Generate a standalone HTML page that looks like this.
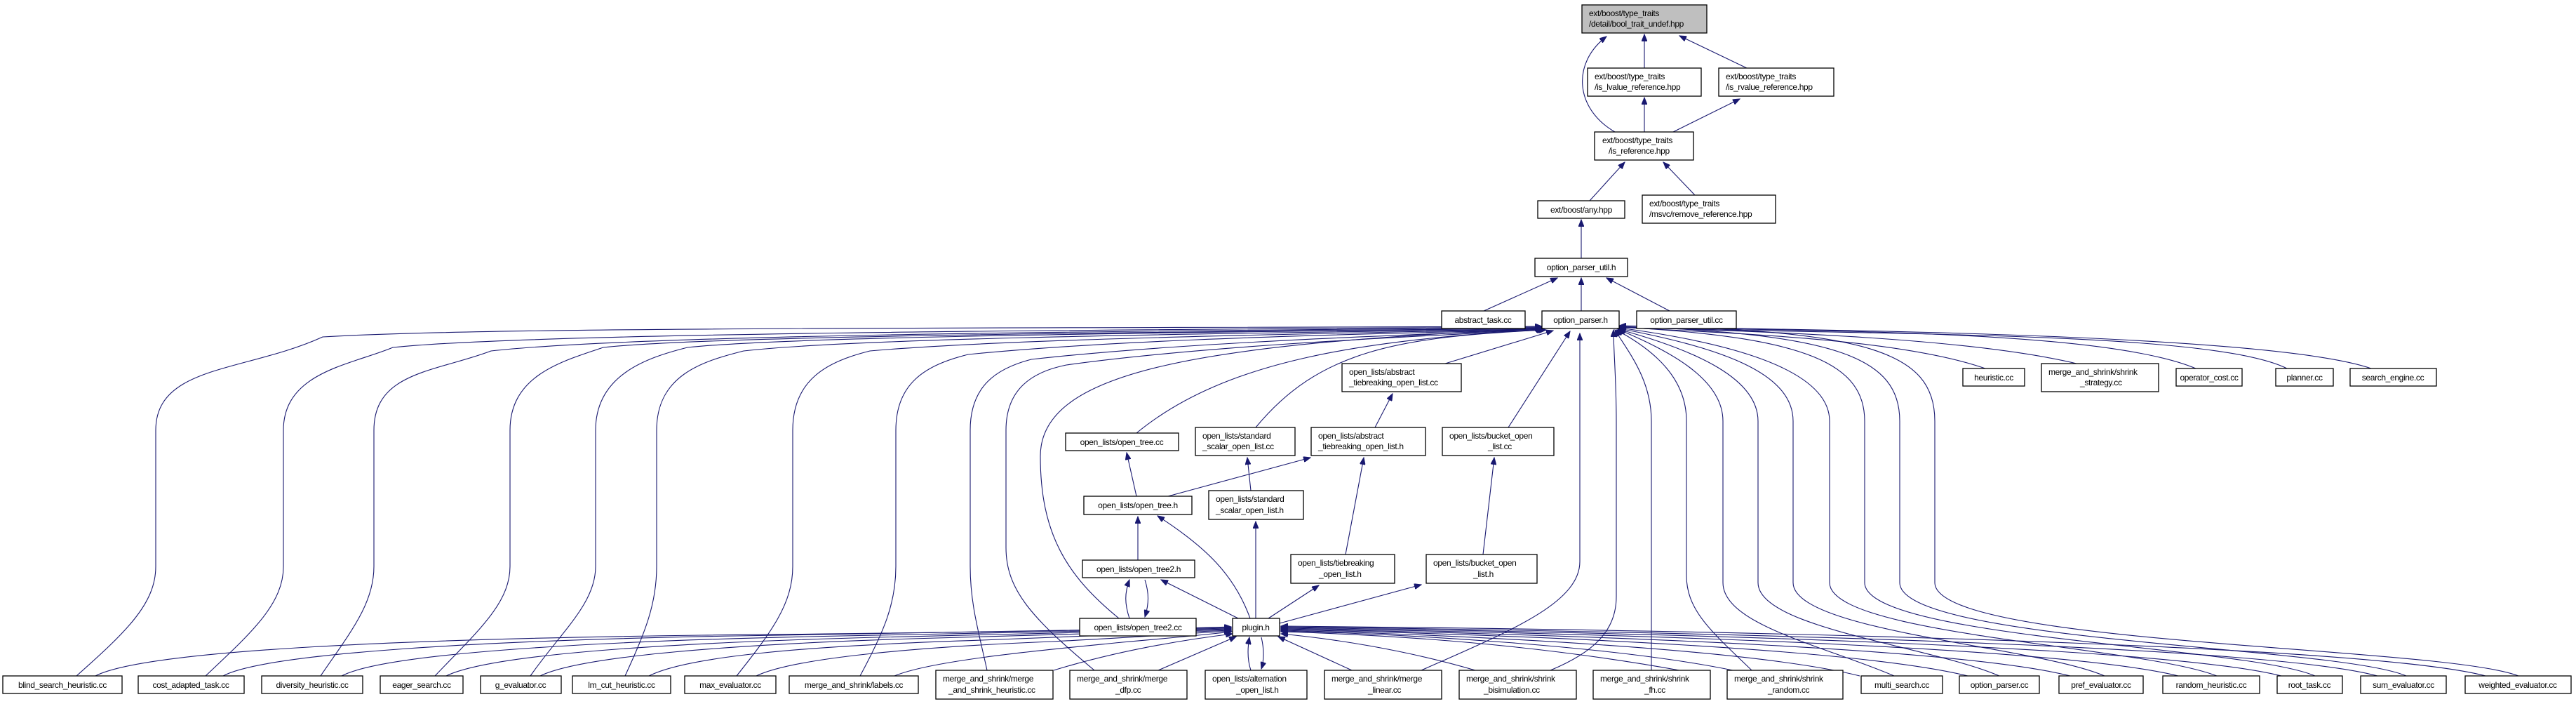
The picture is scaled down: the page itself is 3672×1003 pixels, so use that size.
<!DOCTYPE html>
<html><head><meta charset="utf-8"><style>
html,body{margin:0;padding:0;background:#fff;}
svg{display:block}
text{font-family:"Liberation Sans",Arial,sans-serif;font-size:12px;letter-spacing:-0.35px;fill:#000}
.e{fill:none;stroke:#191970;stroke-width:1.1}
.n{fill:#fff;stroke:#000;stroke-width:1.3}
</style></head><body>
<svg width="3672" height="1003" viewBox="0 0 3672 1003" xmlns="http://www.w3.org/2000/svg">
<defs><marker id="a" markerWidth="11" markerHeight="8" refX="10" refY="4" orient="auto" markerUnits="userSpaceOnUse"><path d="M0,0 L10,4 L0,8 z" fill="#191970" stroke="#191970"/></marker></defs>
<g class="e" marker-end="url(#a)">
<path d="M2344,97 L2344,49"/>
<path d="M2490,97 L2394,51"/>
<path d="M2302,188 C2245,155 2240,90 2290,52"/>
<path d="M2344,188 L2344,139"/>
<path d="M2385,188 L2480,141"/>
<path d="M2266,286 L2316,231"/>
<path d="M2416,278 L2371,231"/>
<path d="M2254,368 L2254,313"/>
<path d="M2115,443 L2220,396"/>
<path d="M2254,443 L2254,396"/>
<path d="M2380,443 L2290,396"/>
<path d="M2060,518 L2214,471"/>
<path d="M1620,617 C1750,510 1950,485 2200,469"/>
<path d="M1790,609 C1880,500 1990,480 2204,470"/>
<path d="M2150,609 L2238,472"/>
<path d="M1595,881 C1520,820 1483,760 1483,650 C1483,530 1700,490 2200,468"/>
<path d="M2026,955 C2150,900 2252,860 2252,800 L2252,475"/>
<path d="M109,963 C180,900 222,860 222,807 L222,613 C222,520 350,530 460,480 C700,465 1500,468 2198,465"/>
<path d="M293,963 C360,900 404,860 404,807 L404,613 C404,530 500,520 560,495 C750,475 1500,470 2198,466"/>
<path d="M457,963 C500,900 533,860 533,807 L533,613 C533,530 620,530 700,500 C900,478 1500,472 2198,467"/>
<path d="M620,963 C680,900 727,860 727,807 L727,613 C727,535 800,515 860,495 C1000,480 1500,474 2198,468"/>
<path d="M756,963 C800,900 849,860 849,807 L849,613 C849,535 920,510 980,495 C1100,482 1500,475 2198,468"/>
<path d="M891,963 C920,900 936,860 936,807 L936,613 C936,535 1000,515 1060,500 C1200,484 1600,476 2199,469"/>
<path d="M1050,963 C1100,900 1130,860 1130,807 L1130,613 C1130,540 1180,515 1240,500 C1400,486 1700,478 2200,469"/>
<path d="M1226,963 C1260,900 1277,860 1277,807 L1277,613 C1277,545 1320,520 1380,505 C1550,488 1800,478 2200,470"/>
<path d="M1407,955 C1395,900 1383,860 1383,807 L1383,613 C1383,550 1420,525 1470,512 C1650,492 1900,480 2201,470"/>
<path d="M1560,955 C1470,880 1434,840 1434,780 L1434,613 C1434,555 1470,530 1520,520 C1700,495 1950,482 2202,470"/>
<path d="M2210,955 C2270,930 2304,900 2304,850 L2304,600 C2304,540 2300,500 2300,470"/>
<path d="M2354,955 C2354,900 2354,860 2354,820 L2354,600 C2354,540 2320,500 2302,470"/>
<path d="M2497,955 C2440,900 2404,870 2404,820 L2404,600 C2404,540 2360,500 2304,470"/>
<path d="M2700,963 C2600,920 2456,890 2456,830 L2456,600 C2456,540 2380,500 2306,469"/>
<path d="M2850,963 C2750,920 2506,895 2506,830 L2506,600 C2506,540 2420,500 2307,469"/>
<path d="M3000,963 C2900,920 2556,900 2556,830 L2556,600 C2556,530 2450,495 2308,468"/>
<path d="M3160,963 C3050,920 2608,905 2608,830 L2608,600 C2608,530 2480,490 2308,467"/>
<path d="M3300,963 C3200,920 2658,910 2658,830 L2658,600 C2658,520 2580,480 2308,466"/>
<path d="M3430,963 C3330,920 2708,915 2708,830 L2708,600 C2708,510 2620,475 2308,465"/>
<path d="M3590,963 C3480,920 2758,920 2758,830 L2758,600 C2758,500 2660,470 2308,464"/>
<path d="M2830,525 C2700,480 2450,475 2308,466"/>
<path d="M2960,518 C2800,480 2500,472 2308,466"/>
<path d="M3130,525 C3000,470 2600,472 2308,466"/>
<path d="M3260,525 C3150,470 2650,478 2308,466"/>
<path d="M3380,525 C3250,480 2700,470 2308,466"/>
<path d="M1960,609 L1985,561"/>
<path d="M1620,707 L1606,645"/>
<path d="M1665,707 L1868,652"/>
<path d="M1783,699 L1778,652"/>
<path d="M1622,798 L1622,736"/>
<path d="M1918,790 L1944,652"/>
<path d="M2114,790 L2130,652"/>
<path d="M1610,881 C1603,860 1603,845 1610,826"/>
<path d="M1632,826 C1638,845 1638,860 1632,879"/>
<path d="M1765,881 L1655,826"/>
<path d="M1782,881 C1760,820 1720,780 1650,735"/>
<path d="M1790,881 L1790,743"/>
<path d="M1808,881 L1880,834"/>
<path d="M1824,888 L2026,833"/>
<path d="M136,963 C210,925 600,910 1000,905 C1300,902 1600,898 1755,893"/>
<path d="M318,963 C380,930 700,912 1050,906 C1350,902 1600,898 1755,894"/>
<path d="M487,963 C550,930 850,914 1150,907 C1400,903 1600,899 1755,895"/>
<path d="M636,963 C700,932 950,916 1250,908 C1450,904 1650,899 1755,896"/>
<path d="M770,963 C830,934 1050,918 1300,910 C1500,905 1650,900 1755,897"/>
<path d="M925,963 C980,935 1150,920 1400,912 C1550,906 1680,901 1755,898"/>
<path d="M1078,963 C1130,938 1300,922 1500,914 C1620,908 1700,902 1755,899"/>
<path d="M1275,963 C1330,940 1500,925 1600,915 C1680,908 1720,904 1756,900"/>
<path d="M1502,955 C1600,925 1700,910 1757,903"/>
<path d="M1651,955 L1762,907"/>
<path d="M1783,955 C1778,940 1778,925 1781,908"/>
<path d="M1798,908 C1802,925 1802,940 1798,953"/>
<path d="M1927,955 L1822,907"/>
<path d="M2103,955 C2000,925 1900,910 1826,903"/>
<path d="M2394,955 C2200,920 2000,905 1826,900"/>
<path d="M2470,955 C2300,920 2000,903 1826,899"/>
<path d="M2651,963 C2500,925 2100,905 1826,898"/>
<path d="M2805,963 C2650,925 2200,905 1826,897"/>
<path d="M2951,963 C2800,925 2300,905 1826,896"/>
<path d="M3105,963 C2950,925 2400,904 1826,895"/>
<path d="M3252,963 C3100,925 2500,903 1826,894"/>
<path d="M3389,963 C3250,925 2600,902 1826,893"/>
<path d="M3543,963 C3400,925 2700,900 1826,892"/>
</g>
<g>
<rect x="2255" y="7" width="178" height="40" fill="#bfbfbf" stroke="#000" stroke-width="1.3"/>
<text x="2265" y="23">ext/boost/type_traits</text><text x="2265" y="38">/detail/bool_trait_undef.hpp</text>
<rect class="n" x="2263" y="97" width="162" height="40"/><text x="2273" y="113">ext/boost/type_traits</text><text x="2273" y="128">/is_lvalue_reference.hpp</text>
<rect class="n" x="2450" y="97" width="164" height="40"/><text x="2460" y="113">ext/boost/type_traits</text><text x="2460" y="128">/is_rvalue_reference.hpp</text>
<rect class="n" x="2273" y="188" width="141" height="40"/><text x="2284" y="204">ext/boost/type_traits</text><text x="2293" y="219">/is_reference.hpp</text>
<rect class="n" x="2192" y="286" width="124" height="25"/><text x="2254" y="303" text-anchor="middle">ext/boost/any.hpp</text>
<rect class="n" x="2341" y="278" width="190" height="40"/><text x="2351" y="294">ext/boost/type_traits</text><text x="2351" y="309">/msvc/remove_reference.hpp</text>
<rect class="n" x="2188" y="368" width="132" height="26"/><text x="2254" y="385" text-anchor="middle">option_parser_util.h</text>
<rect class="n" x="2055" y="443" width="119" height="25"/><text x="2114" y="460" text-anchor="middle">abstract_task.cc</text>
<rect class="n" x="2198" y="443" width="110" height="25"/><text x="2253" y="460" text-anchor="middle">option_parser.h</text>
<rect class="n" x="2333" y="443" width="142" height="25"/><text x="2404" y="460" text-anchor="middle">option_parser_util.cc</text>
<rect class="n" x="2798" y="525" width="88" height="25"/><text x="2842" y="542" text-anchor="middle">heuristic.cc</text>
<rect class="n" x="2910" y="518" width="167" height="40"/><text x="2920" y="534">merge_and_shrink/shrink</text><text x="2965" y="549">_strategy.cc</text>
<rect class="n" x="3102" y="525" width="94" height="25"/><text x="3149" y="542" text-anchor="middle">operator_cost.cc</text>
<rect class="n" x="3244" y="525" width="82" height="25"/><text x="3285" y="542" text-anchor="middle">planner.cc</text>
<rect class="n" x="3350" y="525" width="123" height="25"/><text x="3411" y="542" text-anchor="middle">search_engine.cc</text>
<rect class="n" x="1913" y="518" width="170" height="40"/><text x="1923" y="534">open_lists/abstract</text><text x="1923" y="549">_tiebreaking_open_list.cc</text>
<rect class="n" x="1519" y="617" width="161" height="25"/><text x="1599" y="634" text-anchor="middle">open_lists/open_tree.cc</text>
<rect class="n" x="1704" y="609" width="142" height="40"/><text x="1714" y="625">open_lists/standard</text><text x="1714" y="640">_scalar_open_list.cc</text>
<rect class="n" x="1869" y="609" width="163" height="40"/><text x="1879" y="625">open_lists/abstract</text><text x="1879" y="640">_tiebreaking_open_list.h</text>
<rect class="n" x="2056" y="609" width="159" height="40"/><text x="2066" y="625">open_lists/bucket_open</text><text x="2121" y="640">_list.cc</text>
<rect class="n" x="1545" y="707" width="154" height="26"/><text x="1622" y="724" text-anchor="middle">open_lists/open_tree.h</text>
<rect class="n" x="1723" y="699" width="135" height="41"/><text x="1733" y="715">open_lists/standard</text><text x="1733" y="731">_scalar_open_list.h</text>
<rect class="n" x="1543" y="798" width="160" height="25"/><text x="1623" y="815" text-anchor="middle">open_lists/open_tree2.h</text>
<rect class="n" x="1840" y="790" width="148" height="41"/><text x="1850" y="806">open_lists/tiebreaking</text><text x="1880" y="822">_open_list.h</text>
<rect class="n" x="2033" y="790" width="158" height="41"/><text x="2043" y="806">open_lists/bucket_open</text><text x="2100" y="822">_list.h</text>
<rect class="n" x="1539" y="881" width="166" height="25"/><text x="1622" y="898" text-anchor="middle">open_lists/open_tree2.cc</text>
<rect class="n" x="1757" y="881" width="67" height="25"/><text x="1790" y="898" text-anchor="middle">plugin.h</text>
<rect class="n" x="4" y="963" width="170" height="25"/><text x="89" y="980" text-anchor="middle">blind_search_heuristic.cc</text>
<rect class="n" x="197" y="963" width="151" height="25"/><text x="272" y="980" text-anchor="middle">cost_adapted_task.cc</text>
<rect class="n" x="373" y="963" width="144" height="25"/><text x="445" y="980" text-anchor="middle">diversity_heuristic.cc</text>
<rect class="n" x="542" y="963" width="118" height="25"/><text x="601" y="980" text-anchor="middle">eager_search.cc</text>
<rect class="n" x="685" y="963" width="115" height="25"/><text x="742" y="980" text-anchor="middle">g_evaluator.cc</text>
<rect class="n" x="816" y="963" width="140" height="25"/><text x="886" y="980" text-anchor="middle">lm_cut_heuristic.cc</text>
<rect class="n" x="976" y="963" width="130" height="25"/><text x="1041" y="980" text-anchor="middle">max_evaluator.cc</text>
<rect class="n" x="1125" y="963" width="184" height="25"/><text x="1217" y="980" text-anchor="middle">merge_and_shrink/labels.cc</text>
<rect class="n" x="2653" y="963" width="116" height="25"/><text x="2711" y="980" text-anchor="middle">multi_search.cc</text>
<rect class="n" x="2793" y="963" width="114" height="25"/><text x="2850" y="980" text-anchor="middle">option_parser.cc</text>
<rect class="n" x="2935" y="963" width="120" height="25"/><text x="2995" y="980" text-anchor="middle">pref_evaluator.cc</text>
<rect class="n" x="3083" y="963" width="138" height="25"/><text x="3152" y="980" text-anchor="middle">random_heuristic.cc</text>
<rect class="n" x="3246" y="963" width="93" height="25"/><text x="3292" y="980" text-anchor="middle">root_task.cc</text>
<rect class="n" x="3365" y="963" width="122" height="25"/><text x="3426" y="980" text-anchor="middle">sum_evaluator.cc</text>
<rect class="n" x="3514" y="963" width="151" height="25"/><text x="3589" y="980" text-anchor="middle">weighted_evaluator.cc</text>
<rect class="n" x="1334" y="955" width="167" height="41"/><text x="1344" y="971">merge_and_shrink/merge</text><text x="1352" y="987">_and_shrink_heuristic.cc</text>
<rect class="n" x="1525" y="955" width="167" height="41"/><text x="1535" y="971">merge_and_shrink/merge</text><text x="1590" y="987">_dfp.cc</text>
<rect class="n" x="1718" y="955" width="145" height="41"/><text x="1728" y="971">open_lists/alternation</text><text x="1762" y="987">_open_list.h</text>
<rect class="n" x="1888" y="955" width="167" height="41"/><text x="1898" y="971">merge_and_shrink/merge</text><text x="1950" y="987">_linear.cc</text>
<rect class="n" x="2080" y="955" width="167" height="41"/><text x="2090" y="971">merge_and_shrink/shrink</text><text x="2115" y="987">_bisimulation.cc</text>
<rect class="n" x="2271" y="955" width="167" height="41"/><text x="2281" y="971">merge_and_shrink/shrink</text><text x="2344" y="987">_fh.cc</text>
<rect class="n" x="2462" y="955" width="165" height="41"/><text x="2472" y="971">merge_and_shrink/shrink</text><text x="2520" y="987">_random.cc</text>
</g>
</svg>
</body></html>
